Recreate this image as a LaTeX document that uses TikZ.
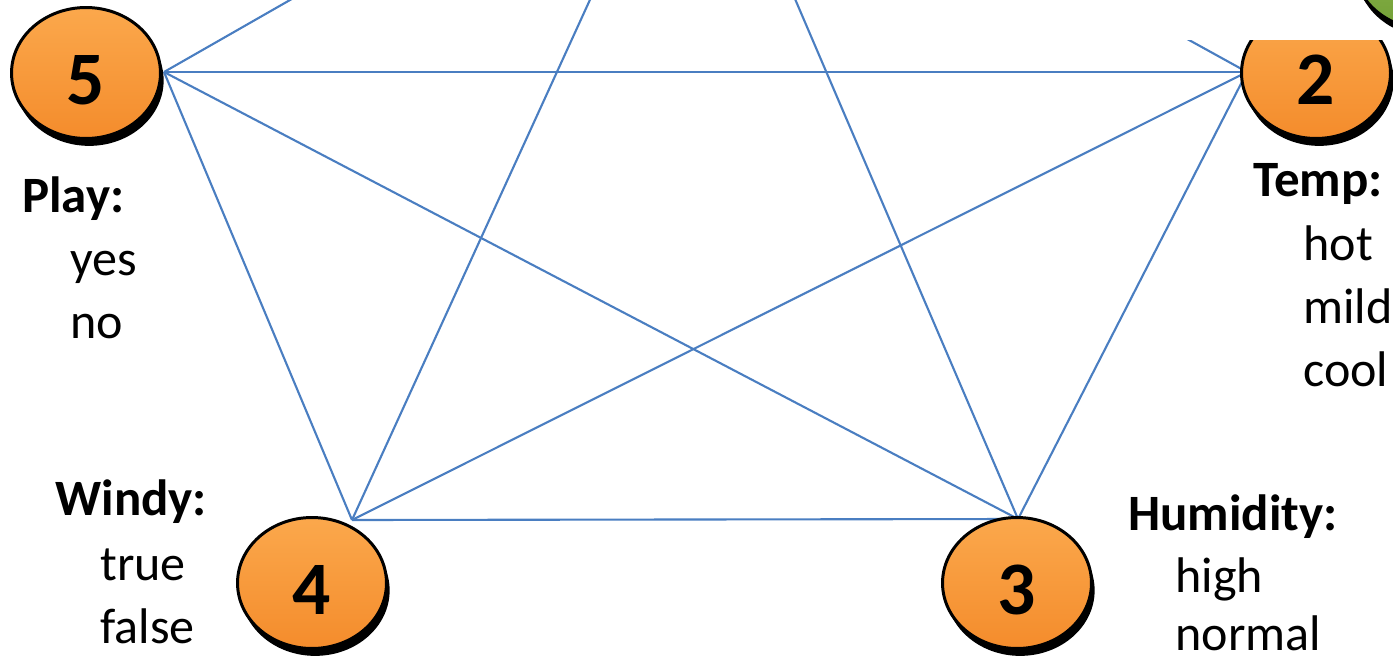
\documentclass[tikz,border=0pt]{standalone}
\usepackage{fontspec}
\setmainfont{Carlito}
\usetikzlibrary{shapes.geometric,shadows}
\definecolor{edgeblue}{RGB}{74,126,193}
\definecolor{balltop}{RGB}{251,168,76}
\definecolor{ballbot}{RGB}{244,140,44}
\definecolor{greentop}{RGB}{150,190,85}
\definecolor{greenbot}{RGB}{115,160,55}

\begin{document}
\begin{tikzpicture}[x=0.02cm, y=-0.02cm,
  ball/.style={ellipse, draw=black, line width=1.7pt, minimum width=2.98cm,
               minimum height=2.62cm, inner sep=0pt, top color=balltop,
               bottom color=ballbot,
               drop shadow={shadow xshift=1.8pt, shadow yshift=-4.2pt,
                            fill=black, opacity=1},
               font=\fontsize{43}{43}\selectfont\bfseries, text height=36pt},
  hdr/.style={anchor=base west, inner sep=0pt,
              font=\fontsize{29}{34}\selectfont\bfseries},
  val/.style={anchor=base west, inner sep=0pt,
              font=\fontsize{28.5}{34}\selectfont},
  edge/.style={draw=edgeblue, line width=1.2pt}
]
\useasboundingbox (0,0) rectangle (1393,663);
\clip (0,0) rectangle (1393,663);

% connection points (node 1 lies above the frame)
\coordinate (c1) at (696,-232);
\coordinate (c2) at (1247,72);
\coordinate (c3) at (1018,519);
\coordinate (c4) at (352,520);
\coordinate (c5) at (164,72);

\foreach \a/\b in {5/2,5/4,5/3,5/1,2/4,2/3,2/1,4/3,4/1,3/1}
  \draw[edge] (c\a) -- (c\b);

\node[ball] (n5) at (86,73) {5};
\node[ball] (n2) at (1316,73) {2};
\node[ball] (n4) at (312,583) {4};
\node[ball] (n3) at (1017,583) {3};

% attribute values
\node[hdr] (play) at (22,212) {Play:};
\node[val] (play-1) at (70,275) {yes};
\node[val] (play-2) at (70,338) {no};

\node[hdr] (temp) at (1253,196) {Temp:};
\node[val] (temp-1) at (1303,260) {hot};
\node[val] (temp-2) at (1303,323) {mild};
\node[val] (temp-3) at (1303,386) {cool};

\node[hdr] (windy) at (55,515) {Windy:};
\node[val] (windy-1) at (100,580) {true};
\node[val] (windy-2) at (100,643) {false};

\node[hdr] (humid) at (1128,530) {Humidity:};
\node[val] (humid-1) at (1175,592) {high};
\node[val] (humid-2) at (1175,650) {normal};

% text box of node 1 covering the top edge
\fill[white] (850,-20) rectangle (1400,40);

\node[ball, top color=greentop, bottom color=greenbot] (ng) at (1428,-36) {};
\end{tikzpicture}
\end{document}
